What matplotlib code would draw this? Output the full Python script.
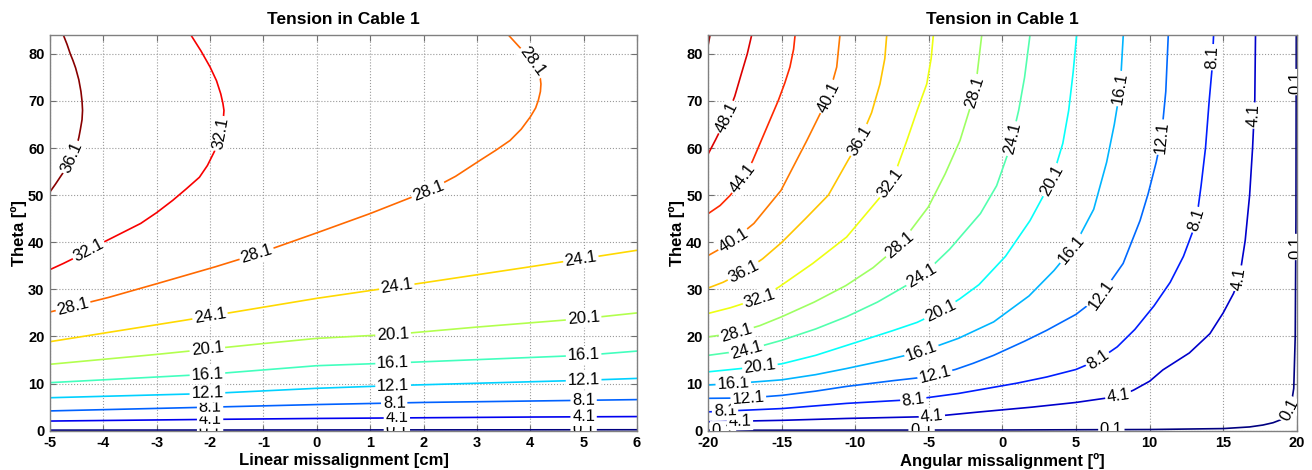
import numpy as np
import matplotlib
matplotlib.use('Agg')
import matplotlib.pyplot as plt
from matplotlib.colors import LinearSegmentedColormap, Normalize

# ---------------- data ----------------
title_text = "Tension in Cable 1"
left_xlabel = "Linear missalignment [cm]"
right_xlabel = "Angular missalignment [º]"
ylabel_text = "Theta [º]"

left_xticks = [-5, -4, -3, -2, -1, 0, 1, 2, 3, 4, 5, 6]
right_xticks = [-20, -15, -10, -5, 0, 5, 10, 15, 20]
yticks = [0, 10, 20, 30, 40, 50, 60, 70, 80]

left_levels = [0.1, 4.1, 8.1, 12.1, 16.1, 20.1, 24.1, 28.1, 32.1, 36.1]
right_levels = [0.1, 4.1, 8.1, 12.1, 16.1, 20.1, 24.1, 28.1, 32.1, 36.1, 40.1, 44.1, 48.1, 52.1]

# left panel contour lines (x = linear missalignment, y = theta)
L01_x = [-5, -2, 1.5, 6]
L01_y = [0.12, 0.14, 0.17, 0.2]
L41_x = [-5, -2, 0, 2, 4, 6]
L41_y = [2.05, 2.4, 2.6, 2.75, 2.9, 3.0]
L81_x = [-5, -2, 0, 2, 4, 6]
L81_y = [4.2, 5.0, 5.55, 6.0, 6.3, 6.6]
L121_x = [-5, -2, 0, 1.5, 5, 6]
L121_y = [7.0, 7.9, 9.0, 9.6, 10.7, 11.1]
L161_x = [-5, -2, 0, 1.5, 5, 6]
L161_y = [10.2, 12.0, 13.8, 14.4, 16.0, 16.9]
L201_x = [-5, -3, -1, 0, 1.5, 3, 5, 6]
L201_y = [14.1, 16.2, 18.5, 19.6, 20.5, 22.0, 23.8, 25.0]
L241_x = [-5, -2.5, 0, 2, 4, 6]
L241_y = [18.9, 23.4, 28.1, 31.4, 34.8, 38.3]
L281_x = [-5, -4.5, -3.9, -3.0, -1.9, -1.1, 0.0, 1.0, 2.1, 2.6, 3.06, 3.35, 3.62, 3.83, 4.0,
          4.1, 4.15, 4.19, 4.2, 4.18, 4.1, 3.97, 3.8, 3.59]
L281_y = [25.2, 26.6, 28.3, 31.2, 34.8, 37.6, 42.0, 46.1, 51.0, 54.0, 57.4, 59.5, 61.6, 64.0, 66.6,
          68.5, 70.1, 72.0, 73.6, 75.5, 77.5, 79.5, 81.4, 84.0]
L321_x = [-5, -4.75, -4.5, -4.25, -4.0, -3.65, -3.3, -3.0, -2.7, -2.45, -2.2, -2.05, -1.94, -1.86,
          -1.8, -1.76, -1.74, -1.76, -1.8, -1.88, -2.0, -2.17, -2.36]
L321_y = [34.2, 35.5, 36.9, 38.4, 40.0, 42.0, 44.0, 46.3, 48.9, 51.3, 53.8, 56.3, 58.8, 60.7,
          62.5, 65.0, 68.0, 69.5, 71.5, 74.3, 77.2, 80.6, 84.0]
L361_x = [-5, -4.9, -4.8, -4.71, -4.63, -4.56, -4.5, -4.46, -4.43, -4.4, -4.39, -4.4, -4.42,
          -4.46, -4.52, -4.57, -4.62, -4.68, -4.75]
L361_y = [50.7, 52.3, 54.0, 55.5, 57.0, 58.8, 60.5, 62.2, 64.0, 66.0, 68.0, 70.0, 72.0,
          74.5, 77.0, 78.6, 80.0, 82.0, 84.0]

# left panel label positions
L01_lab = [(-2.0, 0.4), (1.5, 0.4), (5.0, 0.4)]
L41_lab = [(-2.0, 2.4), (1.5, 2.8), (5.0, 2.95)]
L81_lab = [(-2.0, 5.0), (1.45, 5.9), (5.0, 6.5)]
L121_lab = [(-2.05, 7.9), (1.43, 9.6), (5.0, 10.7)]
L161_lab = [(-2.05, 12.0), (1.43, 14.3), (5.0, 16.0)]
L201_lab = [(-2.05, 17.1), (1.43, 20.4), (5.0, 23.8)]
L241_lab = [(-2.0, 24.2), (1.5, 30.5), (4.95, 36.3)]
L281_lab = [(-4.55, 25.6), (-1.13, 37.6), (2.1, 50.6), (3.98, 77.8)]
L321_lab = [(-4.25, 37.7), (-1.77, 63.0)]
L361_lab = [(-4.55, 57.8)]

# right panel contour lines (x = angular missalignment, y = theta)
R01_x = [-20, -10, 0, 10, 15, 16.8, 17.7, 18.4, 18.9, 19.3, 19.6, 19.8, 19.9, 19.95, 19.97]
R01_y = [0.1, 0.12, 0.15, 0.25, 0.45, 0.8, 1.2, 1.7, 2.3, 3.2, 5.0, 9.0, 20.0, 45.0, 84.0]
R41_x = [-20, -15, -10.6, -4.8, -1.5, 2, 5, 7.9, 8.9, 10.0, 10.9, 12.7, 14.1, 15.0, 15.7, 16.1,
         16.5, 16.8, 17.0, 17.15, 17.2]
R41_y = [1.9, 2.2, 2.6, 3.0, 4.0, 5.0, 6.0, 7.3, 8.6, 10.5, 12.9, 16.5, 20.6, 25.0, 29.1, 32.3,
         40.4, 50.0, 60.0, 70.0, 84.0]
R81_x = [-20, -15, -10.6, -6.1, -3, -1, 1, 3, 5, 6.5, 7.8, 9.0, 10.3, 11.4, 12.3, 12.9, 13.2,
         13.5, 13.8, 14.05, 14.25, 14.35]
R81_y = [4.0, 4.7, 5.8, 6.6, 7.9, 9.0, 10.1, 11.4, 13.0, 15.0, 17.8, 21.5, 26.5, 31.5, 37.0,
         42.0, 45.0, 52.0, 60.0, 70.0, 77.0, 84.0]
R121_x = [-20, -17.3, -15, -12.7, -10.6, -7.5, -5.8, -4.6, -3.2, -2, -0.6, 1.5, 3.0, 5, 6.7,
          8.2, 9.35, 9.9, 10.45, 10.8, 11.1, 11.27]
R121_y = [6.87, 6.95, 7.5, 8.4, 9.4, 10.6, 11.2, 11.9, 13.0, 14.3, 16.0, 19.0, 21.3, 24.7, 28.8,
          35.5, 44.6, 50.3, 57.0, 62.3, 72.0, 84.0]
R161_x = [-20, -18.3, -15, -12.7, -10.6, -7.9, -5.5, -3, -0.6, 1.8, 3.5, 4.9, 6.2, 7.08, 7.6,
          8.0, 8.21]
R161_y = [9.7, 10.0, 10.8, 11.9, 13.2, 15.0, 16.8, 19.6, 23.1, 28.6, 34.0, 39.3, 47.0, 57.0,
          65.0, 72.6, 84.0]
R201_x = [-20, -16.5, -15, -12.7, -10.6, -7.5, -5.8, -4.2, -2.9, -1.6, 0.2, 1.87, 3.34, 4.1,
          4.5, 4.8, 5.04]
R201_y = [12.5, 13.6, 14.2, 16.0, 18.1, 21.2, 23.0, 25.4, 28.0, 31.0, 37.0, 44.6, 53.1, 61.0,
          68.0, 76.0, 84.0]
R241_x = [-20, -17.4, -15, -12.7, -10.6, -8.5, -6.5, -5.5, -3.6, -1.5, -0.4, 0.5, 1.1, 1.5, 1.87]
R241_y = [16.0, 17.1, 19.2, 21.6, 24.2, 27.3, 30.9, 32.8, 38.5, 46.1, 52.0, 60.0, 68.0, 75.0, 84.0]
R281_x = [-20, -18.1, -16.5, -15, -12.8, -10.65, -8.8, -7.0, -5.04, -3.9, -2.89, -1.87, -1.41]
R281_y = [19.9, 20.8, 22.3, 24.2, 27.3, 30.8, 34.6, 39.4, 47.5, 54.5, 61.6, 71.9, 84.0]
R321_x = [-20, -18.5, -16.5, -15.2, -12.9, -10.6, -8.2, -7.5, -6.5, -5.8, -5.15, -4.85, -4.7]
R321_y = [24.9, 26.1, 28.1, 30.5, 35.5, 41.1, 50.0, 53.0, 61.6, 68.0, 73.6, 79.0, 84.0]
R361_x = [-20, -19, -17.6, -16.3, -15, -13.4, -11.84, -10.5, -9.7, -8.9, -8.33, -8.0, -7.87]
R361_y = [30.3, 31.5, 33.7, 36.5, 40.0, 45.0, 50.0, 57.4, 61.6, 67.5, 73.6, 79.0, 84.0]
R401_x = [-20, -19.2, -18.3, -16.9, -15.06, -13.3, -11.84, -11.27, -11.05]
R401_y = [37.2, 38.6, 40.4, 44.0, 51.0, 61.6, 70.8, 77.2, 84.0]
R441_x = [-20, -19.2, -18.5, -17.66, -17.0, -16.4, -15.8, -15.24, -14.8, -14.45, -14.2, -14.1]
R441_y = [46.1, 47.8, 50.0, 53.5, 57.2, 61.6, 66.0, 70.1, 73.8, 77.2, 81.0, 84.0]
R481_x = [-20, -19.5, -18.75, -18.2, -17.75, -17.35, -17.05]
R481_y = [58.8, 61.8, 66.5, 71.0, 75.8, 80.0, 84.0]
R521_x = [-20, -19.88]
R521_y = [82.0, 84.0]

# right panel label positions
R01_lab = [(-19.0, 0.3), (-5.5, 0.3), (7.4, 0.3), (19.6, 4.3), (19.97, 39.0), (19.97, 74.0)]
R41_lab = [(-17.85, 1.95), (-4.8, 3.05), (7.87, 7.25), (16.14, 32.3), (17.1, 66.9)]
R81_lab = [(-18.86, 4.1), (-6.06, 6.6), (6.51, 15.0), (13.2, 44.7), (14.2, 79.3)]
R121_lab = [(-17.28, 6.95), (-4.59, 11.9), (6.74, 28.8), (10.82, 62.3)]
R161_lab = [(-18.3, 10.0), (-5.49, 16.8), (4.7, 38.5), (7.99, 72.6)]
R201_lab = [(-16.49, 13.6), (-4.2, 25.2), (3.34, 53.1)]
R241_lab = [(-17.39, 17.1), (-5.5, 32.8), (0.63, 62.0)]
R281_lab = [(-18.07, 20.8), (-7.0, 39.4), (-1.87, 71.9)]
R321_lab = [(-16.5, 28.1), (-7.6, 52.5)]
R361_lab = [(-17.6, 33.7), (-9.7, 61.6)]
R401_lab = [(-18.3, 40.4), (-11.84, 70.8)]
R441_lab = [(-17.66, 53.5)]
R481_lab = [(-18.75, 66.5)]
R521_lab = []

# ---------------- assemble ----------------
left_lines = [(L01_x, L01_y, L01_lab), (L41_x, L41_y, L41_lab), (L81_x, L81_y, L81_lab),
              (L121_x, L121_y, L121_lab), (L161_x, L161_y, L161_lab), (L201_x, L201_y, L201_lab),
              (L241_x, L241_y, L241_lab), (L281_x, L281_y, L281_lab), (L321_x, L321_y, L321_lab),
              (L361_x, L361_y, L361_lab)]
right_lines = [(R01_x, R01_y, R01_lab), (R41_x, R41_y, R41_lab), (R81_x, R81_y, R81_lab),
               (R121_x, R121_y, R121_lab), (R161_x, R161_y, R161_lab), (R201_x, R201_y, R201_lab),
               (R241_x, R241_y, R241_lab), (R281_x, R281_y, R281_lab), (R321_x, R321_y, R321_lab),
               (R361_x, R361_y, R361_lab), (R401_x, R401_y, R401_lab), (R441_x, R441_y, R441_lab),
               (R481_x, R481_y, R481_lab), (R521_x, R521_y, R521_lab)]

plt.rcParams['font.family'] = ['Liberation Sans', 'DejaVu Sans']
plt.rcParams['axes.unicode_minus'] = False

mjet = LinearSegmentedColormap('mjet', {
    'red':   [(0, 0, 0), (0.375, 0, 0), (0.625, 1, 1), (0.875, 1, 1), (1, 0.5, 0.5)],
    'green': [(0, 0, 0), (0.125, 0, 0), (0.375, 1, 1), (0.625, 1, 1), (0.875, 0, 0), (1, 0, 0)],
    'blue':  [(0, 0.5, 0.5), (0.125, 1, 1), (0.375, 1, 1), (0.625, 0, 0), (1, 0, 0)]})

W, H = 1312, 470
fig = plt.figure(figsize=(W / 100, H / 100), dpi=100)
axL = fig.add_axes([50 / W, 39.3 / H, 587 / W, 395.7 / H])
axR = fig.add_axes([708.3 / W, 39.3 / H, 588.4 / W, 395.7 / H])


def style(ax, xlim, xticks, xlabel):
    ax.set_xlim(*xlim)
    ax.set_ylim(0, 84)
    ax.set_xticks(xticks)
    ax.set_yticks(yticks)
    ax.grid(True, linestyle=':', color='#9a9a9a', linewidth=0.8)
    ax.set_axisbelow(True)
    ax.tick_params(direction='in', top=True, right=True, length=4, width=0.8,
                   color='#707070', labelsize=10.5, pad=4)
    for lab in ax.get_xticklabels() + ax.get_yticklabels():
        lab.set_fontweight('bold')
    for s in ax.spines.values():
        s.set_color('#808080')
        s.set_linewidth(1.0)
    ax.set_xlabel(xlabel, fontsize=12, fontweight='bold', labelpad=2)
    ax.set_ylabel(ylabel_text, fontsize=12, fontweight='bold', labelpad=1)
    ax.set_title(title_text, fontsize=12.5, fontweight='bold', pad=8)


def draw(ax, lines, levels, vmax):
    norm = Normalize(0, vmax)
    z = 3
    for (xs, ys, labs), lev in zip(lines, levels):
        col = mjet(norm(lev))
        ax.plot(xs, ys, color=col, lw=1.2, zorder=2, solid_capstyle='round',
                solid_joinstyle='round')
        P = ax.transData.transform(np.column_stack([xs, ys]))
        for (lx, ly) in labs:
            q = ax.transData.transform((lx, ly))
            best = None
            for i in range(len(P) - 1):
                a, b = P[i], P[i + 1]
                ab = b - a
                t = np.clip(np.dot(q - a, ab) / np.dot(ab, ab), 0, 1)
                p = a + t * ab
                d = np.hypot(*(q - p))
                if best is None or d < best[0]:
                    best = (d, p, ab)
            _, p, ab = best
            ang = np.degrees(np.arctan2(ab[1], ab[0]))
            if ang > 90:
                ang -= 180
            if ang <= -90:
                ang += 180
            xd, yd = ax.transData.inverted().transform(p)
            ax.text(xd, yd, '%.1f' % lev, rotation=ang, rotation_mode='anchor',
                    ha='center', va='center', fontsize=12, color='black',
                    bbox=dict(boxstyle='square,pad=0.1', fc='white', ec='none'),
                    clip_on=True, zorder=z)
            z += 0.01


style(axL, (-5, 6), left_xticks, left_xlabel)
style(axR, (-20, 20), right_xticks, right_xlabel)
draw(axL, left_lines, left_levels, 36.5)
draw(axR, right_lines, right_levels, 53.0)

fig.savefig('out.png', dpi=100)
